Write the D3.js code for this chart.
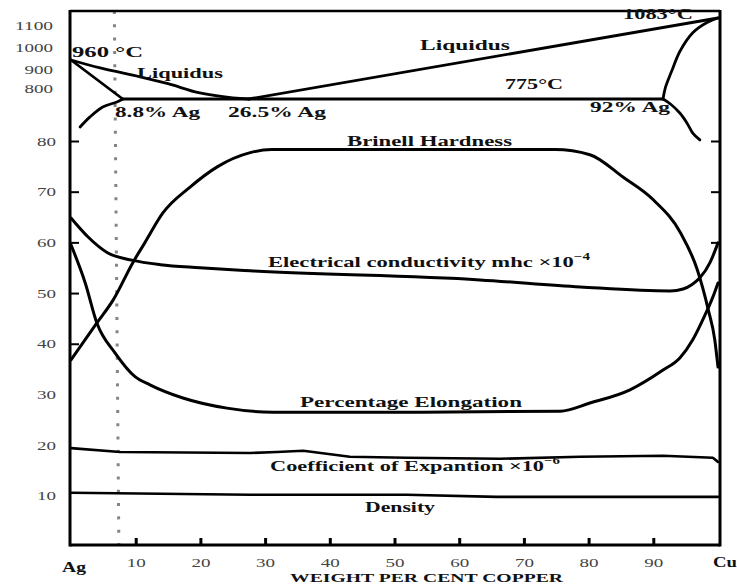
<!DOCTYPE html>
<html>
<head>
<meta charset="utf-8">
<script src="https://cdn.jsdelivr.net/npm/d3@7"></script>
<style>
html,body{margin:0;padding:0;background:#fff;}
svg{display:block;}
</style>
</head>
<body>
<div id="chart"></div>
<script>
(function(){
    'use strict';

    // tick values
    var xTicks=[10,20,30,40,50,60,70,80,90];
    var propTicks=[10,20,30,40,50,60,70,80];
    var tempTicks=[800,900,1000,1100];

    // property curves: [wt% Cu, value]
    var hardness=[[0,36.8],[4,44.1],[6.5,48.6],[9.6,56.1],[11.4,59.9],[14.2,65.8],[18.4,70.9],[22.6,74.9],
        [27.7,77.7],[31,78.3],[50,78.3],[74.8,78.3],[80.2,77.3],[85.3,72.9],[90,68.4],[94.2,61.9],
        [96.8,54.6],[98.5,46.7],[99.5,40.8],[100,35.4]];
    var conductivity=[[0,64.8],[2.6,61.1],[5.7,57.9],[9.4,56.5],[13.8,55.6],[19.9,55],[27.7,54.4],
        [63.2,52.6],[78.7,51.2],[92.6,50.4],[94.6,50.8],[96,51.7],[97.2,53],[98.8,56.1],[100,59.9]];
    var elongation=[[0,59.5],[2.2,52],[4,44.1],[6.8,38.2],[9.9,33.5],[12.2,31.9],[17.3,29.3],[24.1,27.3],
        [31.2,26.5],[50,26.5],[75.6,26.7],[80.2,28.3],[86.4,30.9],[91.5,34.8],[94.1,37.2],[96.1,40.8],
        [98,45.7],[99.2,49.2],[100,52]];
    var expansion=[[0,19.4],[7.6,18.65],[27.7,18.45],[31.8,18.65],[35.9,18.9],[43.1,17.7],[51.9,17.5],
        [66.3,17.3],[78.7,17.7],[91.5,17.9],[99.2,17.5],[100,16.7]];
    var density=[[0,10.6],[27.7,10.2],[51.9,10.2],[65.8,9.8],[100,9.8]];

    // phase diagram: [wt% Cu, temperature °C]
    var liquidusAg=[[0,960],[4.5,923],[10.8,881],[15,850],[19.9,807],[25,784],[27.5,779]];
    var solidusAg=[[0,960],[8,779]];
    var solvusAg=[[1.4,649],[2.9,695],[4.9,742],[7.1,765],[8,779]];
    var eutectic=[[8,779],[91.5,779]];
    var liquidusCu=[[27.5,779],[100,1083]];
    var solidusCu=[[91.5,779],[91.9,835],[92.8,905],[94.1,985],[96.1,1040],[98.3,1070],[100,1083]];
    var solvusCu=[[91.5,779],[92.6,757],[94.1,714],[95.2,668],[96.1,621],[97.2,589]];
    var marker=[[6.7,1120],[7.4,0]];

    var width=737, height=588;
    var left=70, right=720, top=11, bottom=545;
    var serif='"Liberation Serif","Times New Roman",serif';

    var svg=d3.select('#chart').append('svg')
        .attr('width',width).attr('height',height);

    var x=d3.scaleLinear().domain([0,100]).range([71,718]);
    var yProp=d3.scaleLinear().domain([0,80]).range([546.5,141]);
    // the temperature part of the figure is drawn out of scale
    var yTemp=d3.scaleLinear().domain([779,960,1083]).range([99,60,18]);
    var yTempLabel=d3.scaleLinear().domain([800,900,1000,1100]).range([88,69,47,25]);

    var propLine=d3.line().x(function(d){return x(d[0]);}).y(function(d){return yProp(d[1]);})
        .curve(d3.curveMonotoneX);
    var flatLine=d3.line().x(function(d){return x(d[0]);}).y(function(d){return yProp(d[1]);});
    var tempLine=d3.line().x(function(d){return x(d[0]);}).y(function(d){return yTemp(d[1]);})
        .curve(d3.curveCatmullRom.alpha(0.5));

    // dotted marker line near 8.8% Ag
    svg.append('path')
        .attr('d',d3.line().x(function(d){return x(d[0]);})
            .y(function(d){return d[1]>1100?top:yProp(d[1])+2;})(marker))
        .attr('fill','none').attr('stroke','#858585').attr('stroke-width',3)
        .attr('stroke-dasharray','3 10.3');

    // frame
    var frame=svg.append('g').attr('stroke','#000').attr('fill','none');
    frame.append('line').attr('x1',left).attr('x2',right).attr('y1',top).attr('y2',top).attr('stroke-width',2.5);
    frame.append('line').attr('x1',left).attr('x2',left).attr('y1',top-1).attr('y2',bottom+1.5).attr('stroke-width',3);
    frame.append('line').attr('x1',right).attr('x2',right).attr('y1',top-1).attr('y2',bottom+1.5).attr('stroke-width',3);
    frame.append('line').attr('x1',left).attr('x2',right).attr('y1',bottom).attr('y2',bottom).attr('stroke-width',3);

    function styleTickText(g,per){
        g.selectAll('text')
            .attr('font-family',serif).attr('font-size',13).attr('fill','#444')
            .attr('textLength',function(){return this.textContent.length*per;})
            .attr('lengthAdjust','spacingAndGlyphs');
    }

    // left: property axis labels and inner ticks
    svg.append('g').attr('transform','translate('+left+',0)')
        .call(d3.axisLeft(yProp).tickValues(propTicks).tickSize(0).tickPadding(14))
        .call(function(g){g.select('.domain').remove(); styleTickText(g,9.5);});
    svg.append('g').attr('transform','translate('+left+',0)')
        .call(d3.axisLeft(yProp).tickValues([40,50,60,70,80]).tickSize(-9).tickFormat(''))
        .call(function(g){g.select('.domain').remove();
            g.selectAll('line').attr('stroke','#000').attr('stroke-width',2);});
    svg.append('g').attr('transform','translate('+right+',0)')
        .call(d3.axisRight(yProp).tickValues([60,70,80]).tickSize(-9).tickFormat(''))
        .call(function(g){g.select('.domain').remove();
            g.selectAll('line').attr('stroke','#000').attr('stroke-width',2);});

    // left: temperature labels
    svg.append('g').attr('transform','translate('+left+',0)')
        .call(d3.axisLeft(yTempLabel).tickValues(tempTicks).tickFormat(d3.format('d'))
            .tickSize(0).tickPadding(17))
        .call(function(g){g.select('.domain').remove(); styleTickText(g,9.5);});

    // bottom axis
    svg.append('g').attr('transform','translate(0,'+bottom+')')
        .call(d3.axisBottom(x).tickValues(xTicks).tickSize(-7).tickPadding(13))
        .call(function(g){g.select('.domain').remove();
            g.selectAll('line').attr('stroke','#000').attr('stroke-width',3);
            styleTickText(g,9.5);});

    // curves
    var curves=svg.append('g').attr('fill','none').attr('stroke','#000')
        .attr('stroke-linecap','round').attr('stroke-linejoin','round');
    [hardness,conductivity,elongation].forEach(function(s){
        curves.append('path').attr('d',propLine(s)).attr('stroke-width',3);
    });
    [expansion,density].forEach(function(s){
        curves.append('path').attr('d',flatLine(s)).attr('stroke-width',2.6);
    });
    [liquidusAg,solidusAg,solvusAg,eutectic,liquidusCu,solidusCu,solvusCu].forEach(function(s){
        curves.append('path').attr('d',tempLine(s)).attr('stroke-width',2.8);
    });

    // annotations (pixel layout)
    var notes=[
        {t:'960 °C', x:72, y:57, w:71},
        {t:'Liquidus', x:137, y:78, w:86},
        {t:'8.8% Ag', x:115, y:117, w:85},
        {t:'26.5% Ag', x:228, y:117, w:98},
        {t:'Liquidus', x:420, y:50, w:90},
        {t:'775°C', x:505, y:89, w:58},
        {t:'1083°C', x:623, y:19, w:70},
        {t:'92% Ag', x:590, y:112, w:80},
        {t:'Brinell Hardness', x:347, y:146, w:165},
        {t:'Electrical conductivity mhc \u00d710', sup:'\u22124', x:268, y:267, w:322},
        {t:'Percentage Elongation', x:300, y:407, w:222},
        {t:'Coefficient of Expantion \u00d710', sup:'\u22126', x:270, y:471, w:290},
        {t:'Density', x:365, y:512, w:70},
        {t:'Ag', x:62, y:572, w:24, fs:14},
        {t:'Cu', x:713, y:567, w:24, fs:14},
        {t:'WEIGHT PER CENT COPPER', x:290, y:582, w:273, fs:12}
    ];
    var ann=svg.append('g').attr('font-family',serif).attr('font-weight','bold').attr('fill','#111');
    notes.forEach(function(n){
        var t=ann.append('text').attr('x',n.x).attr('y',n.y)
            .attr('font-size',n.fs||15)
            .attr('textLength',n.w).attr('lengthAdjust','spacingAndGlyphs')
            .text(n.t);
        if(n.sup){
            t.append('tspan').attr('dy',-7).attr('font-size',10).text(n.sup);
        }
    });
})();
</script>
</body>
</html>
